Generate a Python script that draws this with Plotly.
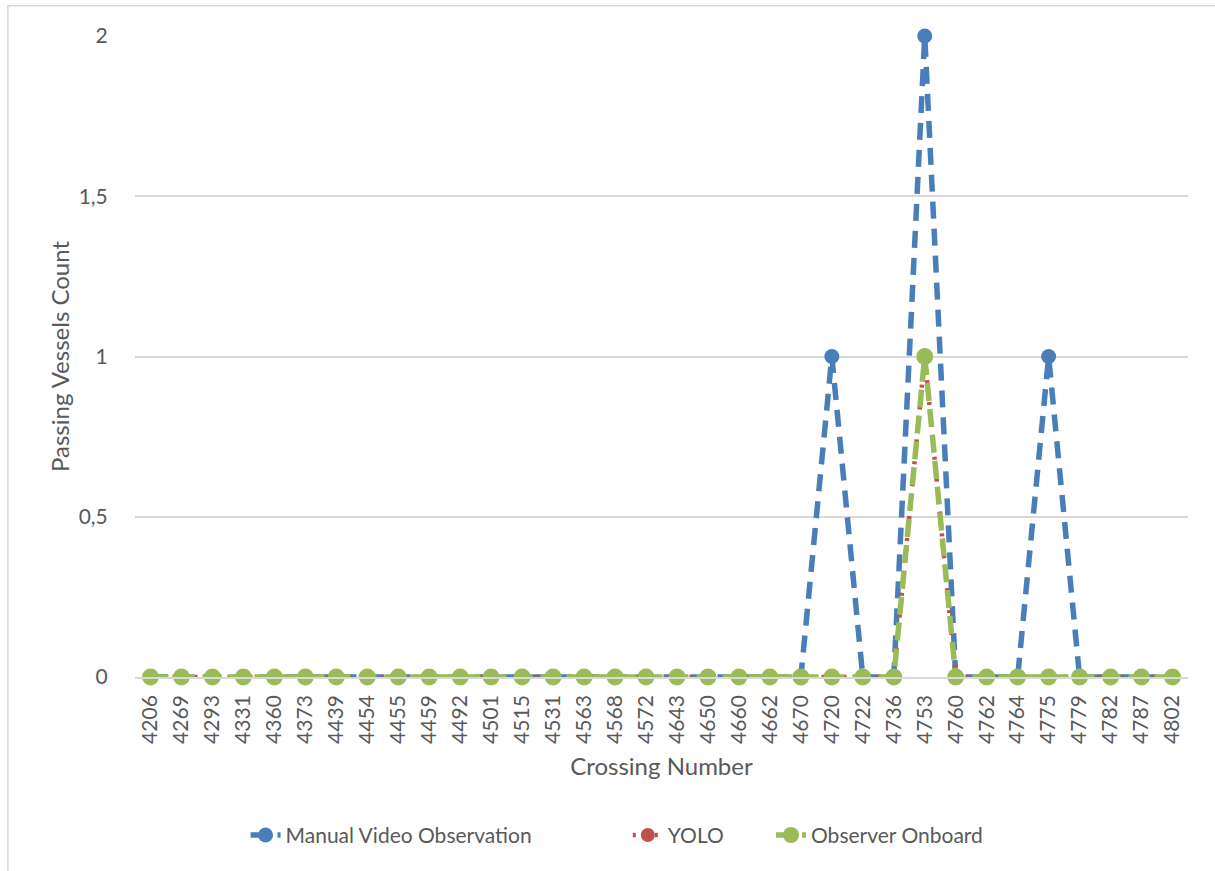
import plotly.graph_objects as go

# Crossing numbers on the category axis
crossings = ["4206", "4269", "4293", "4331", "4360", "4373", "4439", "4454", "4455",
             "4459", "4492", "4501", "4515", "4531", "4563", "4568", "4572", "4643",
             "4650", "4660", "4662", "4670", "4720", "4722", "4736", "4753", "4760",
             "4762", "4764", "4775", "4779", "4782", "4787", "4802"]

manual_video = [0, 0, 0, 0, 0, 0, 0, 0, 0, 0, 0, 0, 0, 0, 0, 0, 0, 0,
                0, 0, 0, 0, 1, 0, 0, 2, 0, 0, 0, 1, 0, 0, 0, 0]
yolo = [0, 0, 0, 0, 0, 0, 0, 0, 0, 0, 0, 0, 0, 0, 0, 0, 0, 0,
        0, 0, 0, 0, 0, 0, 0, 1, 0, 0, 0, 0, 0, 0, 0, 0]
observer_onboard = [0, 0, 0, 0, 0, 0, 0, 0, 0, 0, 0, 0, 0, 0, 0, 0, 0, 0,
                    0, 0, 0, 0, 0, 0, 0, 1, 0, 0, 0, 0, 0, 0, 0, 0]

y_ticks = [0, 0.5, 1, 1.5, 2]
y_tick_text = ["0", "0,5", "1", "1,5", "2"]

FONT = "Lato, 'Open Sans', sans-serif"
TEXT = "#595959"
GRID = "#D9D9D9"

fig = go.Figure()
fig.add_trace(go.Scatter(
    x=crossings, y=manual_video, name="Manual Video Observation",
    mode="lines+markers", cliponaxis=False, legend="legend",
    line=dict(color="#4A7EBB", width=5.5, dash="17px,10px"),
    marker=dict(color="#4A7EBB", size=15),
))
fig.add_trace(go.Scatter(
    x=crossings, y=yolo, name="YOLO",
    mode="lines+markers", cliponaxis=False, legend="legend2",
    line=dict(color="#C0504D", width=4.5, dash="3px,8px"),
    marker=dict(color="#C0504D", size=14),
))
fig.add_trace(go.Scatter(
    x=crossings, y=observer_onboard, name="Observer Onboard",
    mode="lines+markers", cliponaxis=False, legend="legend3",
    line=dict(color="#9BBB59", width=5.5, dash="18px,8px"),
    marker=dict(color="#9BBB59", size=17),
))

legend_style = dict(orientation="h", y=-0.247, yanchor="middle", xanchor="left",
                    font=dict(size=21, color=TEXT), bgcolor="rgba(0,0,0,0)")

fig.update_layout(
    width=1215, height=871,
    margin=dict(l=135, r=27, t=36, b=194),
    paper_bgcolor="white", plot_bgcolor="white",
    font=dict(family=FONT, color=TEXT, size=21),
    showlegend=True,
    legend=dict(x=0.105, **legend_style),
    legend2=dict(x=0.468, **legend_style),
    legend3=dict(x=0.604, **legend_style),
    shapes=[dict(type="rect", xref="paper", yref="paper",
                 x0=-0.1207, x1=1.05, y0=-0.31, y1=1.047,
                 line=dict(color="#D9D9D9", width=1.5), fillcolor="rgba(0,0,0,0)",
                 layer="below")],
)

fig.update_xaxes(
    type="category", range=[-0.5, len(crossings) - 0.5], automargin=False,
    tickangle=-90, showgrid=False,
    showline=True, linecolor=GRID, linewidth=1.5,
    ticks="outside", ticklen=8, tickcolor="rgba(0,0,0,0)",
    tickfont=dict(size=21, color=TEXT),
    title=dict(text="Crossing Number", font=dict(size=24, color=TEXT), standoff=15),
)
fig.update_yaxes(
    range=[0, 2], automargin=False, tickvals=y_ticks, ticktext=y_tick_text,
    showgrid=True, gridcolor=GRID, gridwidth=1.5, zeroline=False,
    ticks="outside", ticklen=22, tickcolor="rgba(0,0,0,0)",
    tickfont=dict(size=21, color=TEXT),
    title=dict(text="Passing Vessels Count", font=dict(size=24, color=TEXT), standoff=2),
)

fig.write_html("out.html")
